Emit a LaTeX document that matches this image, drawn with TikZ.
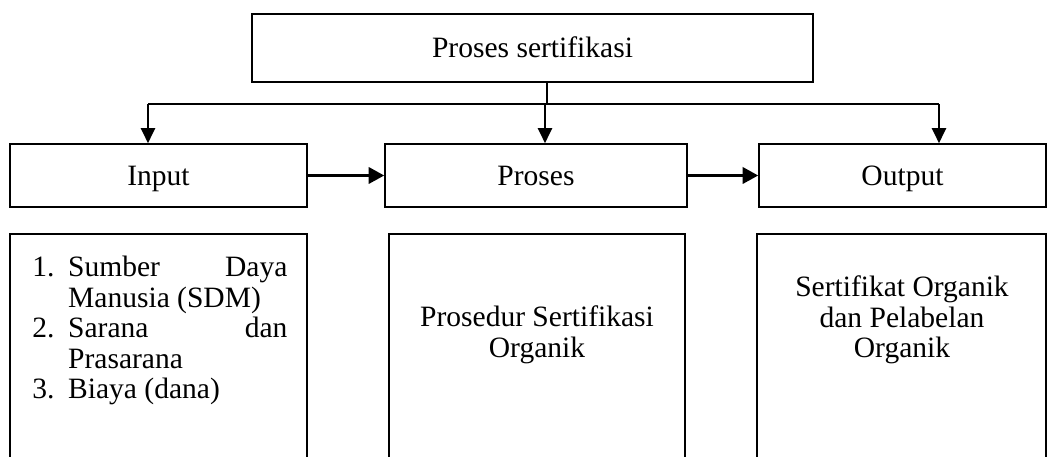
\documentclass[tikz,border=0pt]{standalone}
\usepackage{fontspec}
\setmainfont{Liberation Serif}
\usepackage{tikz}
\usetikzlibrary{positioning, arrows.meta}

% butir daftar bernomor dengan indentasi gantung
\newcommand{\butir}[2]{\par\noindent\hangindent=15pt\hangafter=1\makebox[15pt][l]{#1}#2}

\begin{document}
\begin{tikzpicture}[x=0.42pt, y=-0.42pt,
    font={\fontsize{12.4pt}{12.8pt}\selectfont},
    kotak/.style={draw, line width=0.7pt, inner sep=0pt, minimum height=26.5pt, text height=10pt, text depth=1.6pt},
    kolom/.style={draw, line width=0.7pt, anchor=north, minimum height=130pt},
    isi/.style={inner sep=0pt, align=center},
    panah/.style={-{Triangle[length=6.5pt,width=6.8pt]}, line width=1.2pt},
    cabang/.style={-{Triangle[length=6.3pt,width=6pt]}, line width=0.8pt}]
       \useasboundingbox (0,0) rectangle (1047,457);
       \clip (0,0) rectangle (1047,457);

       % Kotak utama
       \node[kotak, minimum width=235.6pt, minimum height=28.6pt] (atas) at (532.5,48) {Proses sertifikasi};

       % Baris tengah: input, proses, output
       \node[kotak, minimum width=124.7pt] (input) at (158.5,175.5) {Input};
       \node[kotak, minimum width=126.8pt] (proses) at (536,175.5) {Proses};
       \node[kotak, minimum width=120.5pt] (output) at (902.5,175.5) {Output};

       % Kolom bawah (terbuka ke bawah)
       \node[kolom, minimum width=124.7pt] (kolom1) at (158.5,233) {};
       \node[kolom, minimum width=124.3pt] (kolom2) at (537,233) {};
       \node[kolom, minimum width=121.4pt] (kolom3) at (901.5,233) {};

       % Isi kolom
       \node[inner sep=0pt, anchor=north west, text width=107.1pt, align=justify] (daftar) at (32,246) {%
         \baselineskip=12.8pt\lineskiplimit=-20pt\parskip=0pt
         \butir{1.}{Sumber Daya Manusia (SDM)}
         \butir{2.}{Sarana dan Prasarana}
         \butir{3.}{Biaya (dana)}\par};
       \node[isi] (prosedur) at (537,335) {Prosedur Sertifikasi\\Organik};
       \node[isi] (sertifikat) at (902,320) {Sertifikat Organik\\dan Pelabelan\\Organik};

       % Percabangan dari kotak utama
       \coordinate (pusat) at (547,104);
       \coordinate (kiri) at (148,104);
       \coordinate (tengah) at (545,104);
       \coordinate (kanan) at (939,104);
       \draw[line width=0.8pt] (atas.south -| pusat) -- (pusat);
       \draw[line width=0.8pt] (kiri) -- (kanan);
       \draw[cabang] (kiri) -- (kiri |- input.north);
       \draw[cabang] (tengah) -- (tengah |- proses.north);
       \draw[cabang] (kanan) -- (kanan |- output.north);

       % Alur input ke output
       \draw[panah] (input) -- (proses);
       \draw[panah] (proses) -- (output);
    \end{tikzpicture}
\end{document}
